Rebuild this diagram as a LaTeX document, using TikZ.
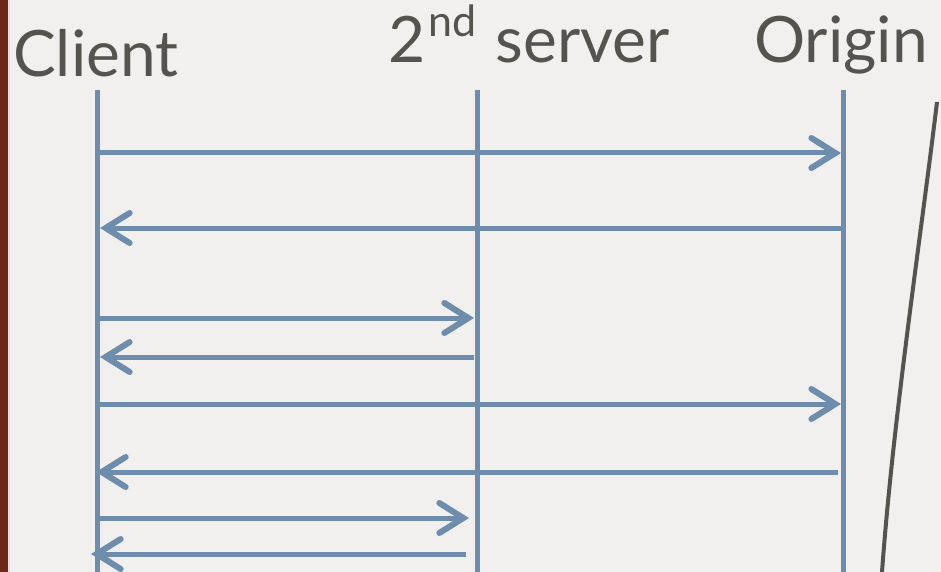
\documentclass[tikz,border=0pt]{standalone}
\usepackage{fontspec}
\setmainfont{Lato}
\usepackage{xcolor}
\usepackage{tikz}
\usetikzlibrary{arrows.meta, positioning, calc}

\definecolor{paper}{HTML}{F1F0EE}
\definecolor{leather}{HTML}{6B2A17}
\definecolor{inkgrey}{HTML}{56524D}
\definecolor{wireblue}{HTML}{6E8CAB}

\tikzset{
    title/.style={anchor=base west, inner sep=0pt, text=inkgrey, font=\fontsize{64}{64}\selectfont},
    lifeline/.style={draw=wireblue, line width=5pt},
    msg/.style={draw=wireblue, line width=5pt,
        -{Straight Barb[length=24pt, width=30pt, line width=6pt, line cap=round]}},
}

\begin{document}
\begin{tikzpicture}[x=1pt, y=-1pt]
    % Page
    \fill[paper] (0,0) rectangle (941,572);
    \useasboundingbox (0,0) rectangle (941,572);
    \fill[leather] (0,0) rectangle (8,572);
    \fill[white!85!leather] (8,0) rectangle (10,572);

    % Titles
    \node[title] (client) at (13,77) {Client};
    \node[title] (server) at (388,63) {2\kern0.05em\raisebox{0.42em}{\fontsize{43}{43}\selectfont nd}\kern0.04em{} server};
    \node[title] (origin) at (754,63) {Origin};

    % Lifelines
    \coordinate (cltop) at (97,90);
    \coordinate (svtop) at (477,90);
    \coordinate (ortop) at (843,90);
    \coordinate (clbot) at (97,572);
    \coordinate (svbot) at (477,572);
    \coordinate (orbot) at (843,572);
    \draw[lifeline] (cltop) -- (clbot);
    \draw[lifeline] (svtop) -- (svbot);
    \draw[lifeline] (ortop) -- (orbot);

    % Messages
    \foreach \y/\from/\to/\sa/\ta in {153/cl/or/0/-2, 228/or/cl/0/3, 318/cl/sv/0/-3,
        357/sv/cl/-3/3, 404/cl/or/0/-2, 472/or/cl/-5/-1, 518/cl/sv/0/-8, 554/sv/cl/-11/-6} {
        \draw[msg] ($(\from top |- 0,\y) + (\sa,0)$) -- ($(\to top |- 0,\y) + (\ta,0)$);
    }

    % Curve on the right
    \draw[inkgrey, line width=4pt] (937,102) .. controls (921,235) and (893,420) .. (882,572);
\end{tikzpicture}
\end{document}
